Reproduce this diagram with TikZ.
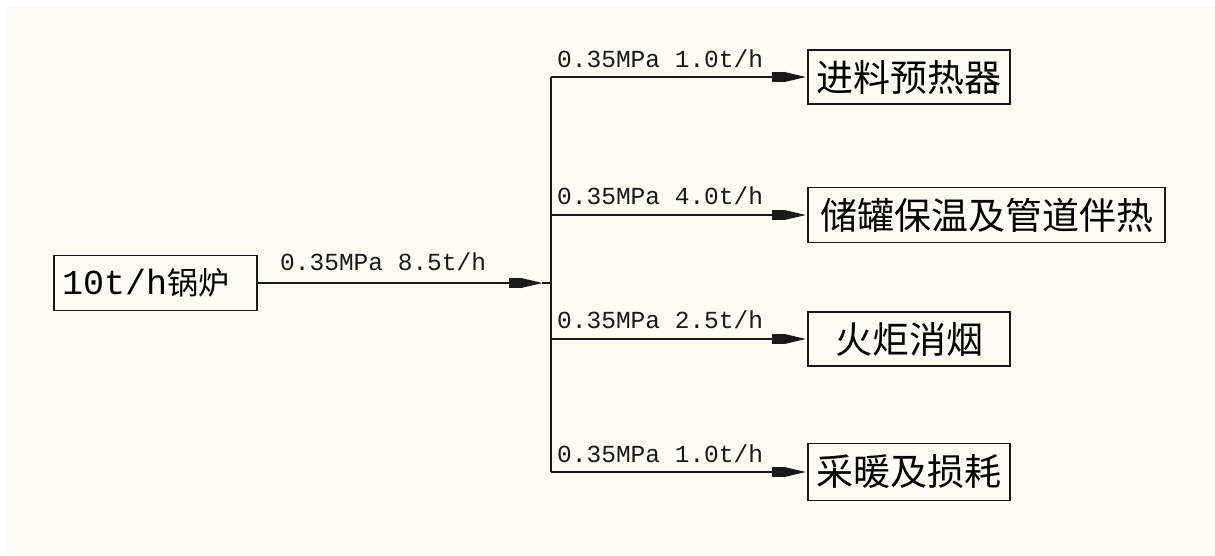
\documentclass[tikz,border=0pt]{standalone}
\usepackage{fontspec}
\newfontfamily\cjk{Noto Sans CJK SC}
\newfontfamily\monof{Liberation Mono}
\usetikzlibrary{arrows.meta}
\definecolor{paper}{RGB}{253,252,242}
\definecolor{ink}{RGB}{25,25,25}
\tikzset{
  unitbox/.style={draw=ink, line width=1.3pt, inner sep=0pt, minimum width=202pt, minimum height=54pt,
    font=\fontsize{37}{40}\selectfont\cjk},
  flowlabel/.style={anchor=base west, inner sep=0pt, font=\fontsize{24.5}{27}\selectfont\monof, text=ink},
  pipe/.style={draw=ink, line width=1.2pt},
  cadtip/.style={-{Rectangle[length=12pt, width=10pt] Triangle[length=22pt, width=10pt, sep=-0.5pt]}},
  flow/.style={pipe, cadtip, shorten >=2pt},
}
\begin{document}
\begin{tikzpicture}[x=1pt, y=-1pt]
\useasboundingbox (0,0) rectangle (1215,555);
\fill[white] (0,0) rectangle (1215,555);
\fill[paper] (6,7) rectangle (1215,555);

% boiler
\node[unitbox, minimum width=203pt, minimum height=55pt, text width=187pt, inner xsep=8pt, align=left]
  (boiler) at (155.5,283) {{\fontsize{35}{40}\selectfont\monof 10t/h}{\fontsize{31}{40}\selectfont\cjk 锅炉}};

% consumers
\node[unitbox] (b1) at (909,77) {进料预热器};
\node[unitbox, minimum width=357pt, minimum height=55pt] (b2) at (986.5,215) {储罐保温及管道伴热};
\node[unitbox] (b3) at (909,339) {火炬消烟};
\node[unitbox, minimum height=57pt] (b4) at (909,472) {采暖及损耗};

% header
\coordinate (junc) at (551,283);
\coordinate (mtip) at (542,283);
\draw[pipe, cadtip] (boiler.east) -- (mtip);
\draw[pipe] (mtip) -- (junc);
\draw[pipe] (junc |- b1.west) -- (junc |- b4.west);

\draw[flow] (junc |- b1.west) -- (b1.west);
\draw[flow] (junc |- b2.west) -- (b2.west);
\draw[flow] (junc |- b3.west) -- (b3.west);
\draw[flow] (junc |- b4.west) -- (b4.west);

% labels
\node[flowlabel] (l0) at (280,270) {0.35MPa 8.5t/h};
\node[flowlabel] (l1) at (557,67) {0.35MPa 1.0t/h};
\node[flowlabel] (l2) at (557,204) {0.35MPa 4.0t/h};
\node[flowlabel] (l3) at (557,328) {0.35MPa 2.5t/h};
\node[flowlabel] (l4) at (557,462) {0.35MPa 1.0t/h};
\end{tikzpicture}
\end{document}
